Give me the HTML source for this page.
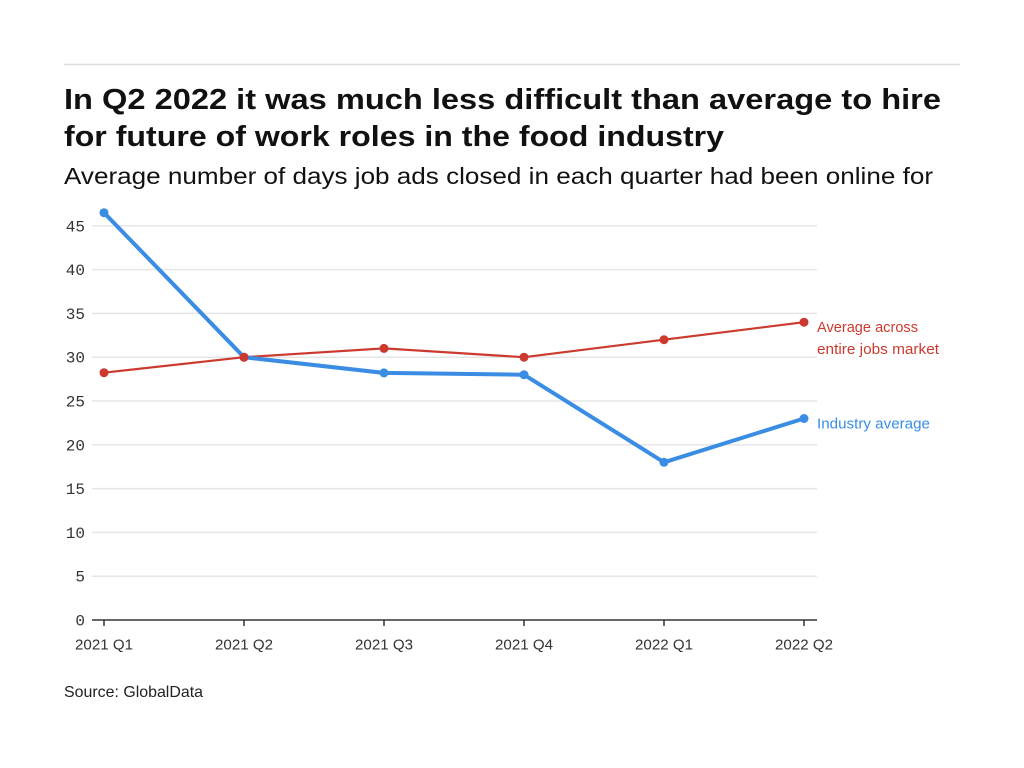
<!DOCTYPE html>
<html>
<head>
<meta charset="utf-8">
<style>
  html, body { margin: 0; padding: 0; background: #ffffff; }
  svg { display: block; }
</style>
</head>
<body>
<svg width="1024" height="768" viewBox="0 0 1024 768" xmlns="http://www.w3.org/2000/svg">
  <rect x="0" y="0" width="1024" height="768" fill="#ffffff"/>
  <!-- top rule -->
  <line x1="64" y1="64.5" x2="960" y2="64.5" stroke="#dddddd" stroke-width="1.5"/>

  <!-- title -->
  <g font-family="Liberation Sans, sans-serif" fill="#111111">
    <text x="64" y="109" font-size="29" font-weight="bold" textLength="877" lengthAdjust="spacingAndGlyphs">In Q2 2022 it was much less difficult than average to hire</text>
    <text x="64" y="146" font-size="29" font-weight="bold" textLength="660" lengthAdjust="spacingAndGlyphs">for future of work roles in the food industry</text>
    <text x="64" y="184" font-size="23" textLength="869" lengthAdjust="spacingAndGlyphs">Average number of days job ads closed in each quarter had been online for</text>
  </g>

  <!-- gridlines -->
  <g stroke="#e6e6e6" stroke-width="1.5">
    <line x1="92" y1="225.8" x2="817" y2="225.8"/>
    <line x1="92" y1="269.6" x2="817" y2="269.6"/>
    <line x1="92" y1="313.4" x2="817" y2="313.4"/>
    <line x1="92" y1="357.2" x2="817" y2="357.2"/>
    <line x1="92" y1="401" x2="817" y2="401"/>
    <line x1="92" y1="444.8" x2="817" y2="444.8"/>
    <line x1="92" y1="488.6" x2="817" y2="488.6"/>
    <line x1="92" y1="532.4" x2="817" y2="532.4"/>
    <line x1="92" y1="576.2" x2="817" y2="576.2"/>
  </g>

  <!-- y tick labels -->
  <g font-family="Liberation Mono, monospace" font-size="16" fill="#333333" text-anchor="end">
    <text x="85" y="231.3">45</text>
    <text x="85" y="275.1">40</text>
    <text x="85" y="318.9">35</text>
    <text x="85" y="362.7">30</text>
    <text x="85" y="406.5">25</text>
    <text x="85" y="450.3">20</text>
    <text x="85" y="494.1">15</text>
    <text x="85" y="537.9">10</text>
    <text x="85" y="581.7">5</text>
    <text x="85" y="625.5">0</text>
  </g>

  <!-- x axis -->
  <line x1="92" y1="620" x2="817" y2="620" stroke="#333333" stroke-width="1.5"/>
  <g stroke="#333333" stroke-width="1.5">
    <line x1="104" y1="620" x2="104" y2="626"/>
    <line x1="244" y1="620" x2="244" y2="626"/>
    <line x1="384" y1="620" x2="384" y2="626"/>
    <line x1="524" y1="620" x2="524" y2="626"/>
    <line x1="664" y1="620" x2="664" y2="626"/>
    <line x1="804" y1="620" x2="804" y2="626"/>
  </g>
  <g font-family="Liberation Sans, sans-serif" font-size="15" fill="#333333" text-anchor="middle">
    <text x="104" y="649.5" textLength="58" lengthAdjust="spacingAndGlyphs">2021 Q1</text>
    <text x="244" y="649.5" textLength="58" lengthAdjust="spacingAndGlyphs">2021 Q2</text>
    <text x="384" y="649.5" textLength="58" lengthAdjust="spacingAndGlyphs">2021 Q3</text>
    <text x="524" y="649.5" textLength="58" lengthAdjust="spacingAndGlyphs">2021 Q4</text>
    <text x="664" y="649.5" textLength="58" lengthAdjust="spacingAndGlyphs">2022 Q1</text>
    <text x="804" y="649.5" textLength="58" lengthAdjust="spacingAndGlyphs">2022 Q2</text>
  </g>

  <!-- red series: average across entire jobs market -->
  <polyline fill="none" stroke="#cc3a2f" stroke-width="2.2" stroke-linejoin="round"
    points="104,372.7 244,357.2 384,348.4 524,357.2 664,339.7 804,322.2"/>
  <g fill="#cc3a2f">
    <circle cx="104" cy="372.7" r="4.5"/>
    <circle cx="244" cy="357.2" r="4.5"/>
    <circle cx="384" cy="348.4" r="4.5"/>
    <circle cx="524" cy="357.2" r="4.5"/>
    <circle cx="664" cy="339.7" r="4.5"/>
    <circle cx="804" cy="322.2" r="4.5"/>
  </g>

  <!-- blue series: industry average -->
  <polyline fill="none" stroke="#3a8de3" stroke-width="4" stroke-linejoin="round"
    points="104,212.7 244,357.2 384,372.9 524,374.7 664,462.3 804,418.5"/>
  <g fill="#3a8de3">
    <circle cx="104" cy="212.7" r="4.5"/>
    <circle cx="244" cy="357.2" r="4.5"/>
    <circle cx="384" cy="372.9" r="4.5"/>
    <circle cx="524" cy="374.7" r="4.5"/>
    <circle cx="664" cy="462.3" r="4.5"/>
    <circle cx="804" cy="418.5" r="4.5"/>
  </g>
  <circle cx="244" cy="357.2" r="4.5" fill="#cc3a2f"/>

  <!-- series labels -->
  <g font-family="Liberation Sans, sans-serif" font-size="15">
    <text x="817" y="332" fill="#cc3a2f" textLength="101" lengthAdjust="spacingAndGlyphs">Average across</text>
    <text x="817" y="354" fill="#cc3a2f" textLength="122" lengthAdjust="spacingAndGlyphs">entire jobs market</text>
    <text x="817" y="428.5" fill="#3a8de3" textLength="113" lengthAdjust="spacingAndGlyphs">Industry average</text>
  </g>

  <!-- source -->
  <text x="64" y="697" font-family="Liberation Sans, sans-serif" font-size="16" fill="#222222" textLength="139" lengthAdjust="spacingAndGlyphs">Source: GlobalData</text>
</svg>
</body>
</html>
